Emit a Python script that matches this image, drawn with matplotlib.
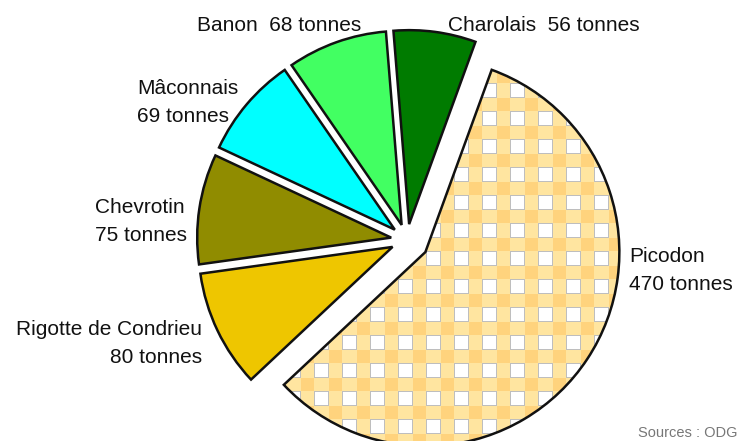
import numpy as np
import matplotlib.pyplot as plt

W, H = 739, 441

# data
cheeses = ["Picodon", "Rigotte de Condrieu", "Chevrotin", "Mâconnais", "Banon", "Charolais"]
tonnes = [470, 80, 75, 69, 68, 56]
labels = ["Picodon\n470 tonnes", "Rigotte de Condrieu\n80 tonnes", "Chevrotin\n75 tonnes",
          "Mâconnais\n69 tonnes", "Banon  68 tonnes", "Charolais  56 tonnes"]
colors = ["none", "#EEC600", "#908C00", "#00FFFF", "#42FF62", "#007B00"]
explode = [22, 16, 16, 16, 16, 16]   # pie explode is in data units (px here)

# label placement (screen px: anchor x, first baseline y, alignment)
label_pos = [(629, 262, "left"), (202, 335, "right"), (95, 213, "left"),
             (137, 94, "left"), (279, 31, "center"), (544, 31, "center")]
LINE_STEP = 28

plt.rcParams["font.family"] = ["Liberation Sans", "DejaVu Sans"]

fig = plt.figure(figsize=(W / 100, H / 100), dpi=100)
ax = fig.add_axes([0, 0, 1, 1])

wedges, _ = ax.pie(tonnes, colors=colors, explode=explode, startangle=70,
                   counterclock=False, center=(407, H - 240), radius=194,
                   wedgeprops=dict(edgecolor="#111111", linewidth=1.8))

# gingham texture for Picodon, clipped to its wedge
P = 28
yy, xx = np.mgrid[0:H, 0:W]
px = (xx - 6) % P
py = (yy - 27) % P
in_x = px < 15
in_y = py < 15
tex = np.empty((H, W, 3))
tex[:] = np.array([255, 229, 160]) / 255
tex[~in_x & ~in_y] = np.array([255, 211, 125]) / 255
sq = in_x & in_y
tex[sq] = 1.0
border = sq & ((px == 0) | (px == 14) | (py == 0) | (py == 14))
tex[border] = np.array([190, 190, 190]) / 255
im = ax.imshow(tex, extent=(0, W, 0, H), origin="upper", interpolation="nearest", zorder=0)
im.set_clip_path(wedges[0])

for lab, (x, y, ha) in zip(labels, label_pos):
    for i, line in enumerate(lab.split("\n")):
        ax.text(x, H - (y + i * LINE_STEP), line, ha=ha, va="baseline",
                fontsize=15, color="#111111")

ax.text(737, H - 437, "Sources : ODG", ha="right", va="baseline",
        fontsize=10.5, color="#777777")

ax.set_xlim(0, W)
ax.set_ylim(0, H)
ax.set_aspect("equal")
ax.axis("off")

fig.savefig("out.png", dpi=100)
